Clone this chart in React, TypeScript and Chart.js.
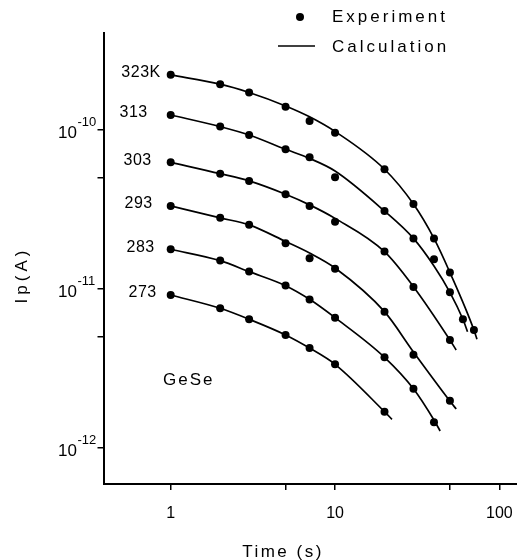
import React, { useEffect, useRef } from "react";
import { Chart, registerables } from "chart.js";

Chart.register(...registerables);

// ---------- data ----------
const temperatureLabels = ["323K", "313", "303", "293", "283", "273"];

// Experiment (dots)
const exp323Times = [1, 2, 3, 5, 7, 10, 20, 30, 40, 50, 70];
const exp323Values = [2.22e-10, 1.94e-10, 1.72e-10, 1.4e-10, 1.14e-10, 9.6e-11, 5.66e-11, 3.42e-11, 2.08e-11, 1.27e-11, 5.52e-12];
const exp313Times = [1, 2, 3, 5, 7, 10, 20, 30, 40, 50, 60];
const exp313Values = [1.24e-10, 1.05e-10, 9.3e-11, 7.56e-11, 6.73e-11, 5.04e-11, 3.09e-11, 2.08e-11, 1.54e-11, 9.53e-12, 6.45e-12];
const exp303Times = [1, 2, 3, 5, 7, 10, 20, 30, 50];
const exp303Values = [6.26e-11, 5.31e-11, 4.78e-11, 3.94e-11, 3.33e-11, 2.65e-11, 1.72e-11, 1.03e-11, 4.78e-12];
const exp293Times = [1, 2, 3, 5, 7, 10, 20, 30, 50];
const exp293Values = [3.33e-11, 2.8e-11, 2.53e-11, 1.94e-11, 1.56e-11, 1.34e-11, 7.2e-12, 3.86e-12, 1.98e-12];
const exp283Times = [1, 2, 3, 5, 7, 10, 20, 30, 40];
const exp283Values = [1.78e-11, 1.51e-11, 1.29e-11, 1.05e-11, 8.6e-12, 6.6e-12, 3.72e-12, 2.36e-12, 1.45e-12];
const exp273Times = [1, 2, 3, 5, 7, 10, 20];
const exp273Values = [9.17e-12, 7.56e-12, 6.45e-12, 5.14e-12, 4.25e-12, 3.36e-12, 1.69e-12];

// Calculation (lines)
const calc323Times = [1, 2, 3, 5, 7, 10, 20, 30, 40, 50, 70, 73];
const calc323Values = [2.22e-10, 1.94e-10, 1.72e-10, 1.416e-10, 1.21e-10, 9.78e-11, 5.66e-11, 3.42e-11, 2.08e-11, 1.27e-11, 5.52e-12, 4.83e-12];
const calc313Times = [1, 2, 3, 5, 7, 10, 20, 30, 40, 50, 60, 64];
const calc313Values = [1.242e-10, 1.049e-10, 9.3e-11, 7.56e-11, 6.62e-11, 5.52e-11, 3.09e-11, 2.08e-11, 1.395e-11, 9.53e-12, 6.45e-12, 5.39e-12];
const calc303Times = [1, 2, 3, 5, 7, 10, 20, 30, 50, 54.6];
const calc303Values = [6.26e-11, 5.31e-11, 4.78e-11, 3.94e-11, 3.38e-11, 2.78e-11, 1.716e-11, 1.034e-11, 4.78e-12, 4.13e-12];
const calc293Times = [1, 2, 3, 5, 7, 10, 20, 30, 50, 54.6];
const calc293Values = [3.33e-11, 2.8e-11, 2.53e-11, 1.99e-11, 1.684e-11, 1.356e-11, 7.2e-12, 4.02e-12, 1.975e-12, 1.759e-12];
const calc283Times = [1, 2, 3, 5, 7, 10, 20, 30, 40, 43.6];
const calc283Values = [1.777e-11, 1.507e-11, 1.285e-11, 1.049e-11, 8.61e-12, 6.6e-12, 3.72e-12, 2.36e-12, 1.5e-12, 1.28e-12];
const calc273Times = [1, 2, 3, 5, 7, 10, 20, 22.2];
const calc273Values = [9.17e-12, 7.56e-12, 6.45e-12, 5.14e-12, 4.25e-12, 3.36e-12, 1.692e-12, 1.515e-12];

const xTickValues = [1, 5, 10, 50, 100];
const xMajorValues = [1, 10, 100];
const xMajorLabels = ["1", "10", "100"];
const yTickValues = [1e-12, 5e-12, 1e-11, 5e-11, 1e-10];
const yMajorValues = [1e-10, 1e-11, 1e-12];
const yMajorExponents = ["-10", "-11", "-12"];

const expSeries = [
  [exp323Times, exp323Values],
  [exp313Times, exp313Values],
  [exp303Times, exp303Values],
  [exp293Times, exp293Values],
  [exp283Times, exp283Values],
  [exp273Times, exp273Values],
];
const calcSeries = [
  [calc323Times, calc323Values],
  [calc313Times, calc313Values],
  [calc303Times, calc303Values],
  [calc293Times, calc293Values],
  [calc283Times, calc283Values],
  [calc273Times, calc273Values],
];

// label right-edge gap from the t=1 point (style)
const labelGaps = [10, 23, 19, 18, 16, 14];

const FONT = "'Liberation Sans', Arial, sans-serif";

const toXY = (t: number[], v: number[]) => t.map((x, i) => ({ x, y: v[i] }));

export default function App() {
  const ref = useRef<HTMLCanvasElement | null>(null);

  useEffect(() => {
    if (!ref.current) return;

    const datasets: any[] = [];
    calcSeries.forEach(([t, v], i) => {
      datasets.push({
        label: "Calculation " + temperatureLabels[i],
        data: toXY(t as number[], v as number[]),
        showLine: true,
        borderColor: "#000",
        borderWidth: 1.7,
        pointRadius: 0,
        cubicInterpolationMode: "monotone",
        fill: false,
      });
    });
    expSeries.forEach(([t, v], i) => {
      datasets.push({
        label: "Experiment " + temperatureLabels[i],
        data: toXY(t as number[], v as number[]),
        showLine: false,
        pointRadius: 4,
        pointBackgroundColor: "#000",
        pointBorderColor: "#000",
        pointBorderWidth: 0,
      });
    });

    const overlay = {
      id: "overlay",
      afterDraw(chart: any) {
        const ctx = chart.ctx as CanvasRenderingContext2D;
        const xs = chart.scales.x;
        const ys = chart.scales.y;
        ctx.save();
        ctx.fillStyle = "#000";
        ctx.strokeStyle = "#000";

        // x tick labels
        (ctx as any).letterSpacing = "0px";
        ctx.font = `16px ${FONT}`;
        ctx.textAlign = "center";
        ctx.textBaseline = "middle";
        xMajorValues.forEach((v, i) => {
          ctx.fillText(xMajorLabels[i], xs.getPixelForValue(v), 514);
        });

        // y tick labels with superscripts
        yMajorValues.forEach((v, i) => {
          const py = ys.getPixelForValue(v);
          ctx.font = `17px ${FONT}`;
          ctx.textAlign = "right";
          ctx.textBaseline = "middle";
          ctx.fillText("10", 77, py + 3);
          ctx.font = `13px ${FONT}`;
          ctx.textAlign = "left";
          ctx.fillText(yMajorExponents[i], 77.5, py - 8);
        });

        // temperature labels
        ctx.font = `16px ${FONT}`;
        (ctx as any).letterSpacing = "0.5px";
        ctx.textAlign = "right";
        ctx.textBaseline = "middle";
        expSeries.forEach(([t, v], i) => {
          const px = xs.getPixelForValue((t as number[])[0]) - labelGaps[i];
          const py = ys.getPixelForValue((v as number[])[0]) - 2;
          ctx.fillText(temperatureLabels[i], px, py);
        });

        // GeSe
        ctx.font = `17px ${FONT}`;
        (ctx as any).letterSpacing = "2px";
        ctx.textAlign = "left";
        ctx.fillText("GeSe", 163, 380);

        // legend
        ctx.beginPath();
        ctx.arc(300, 17, 4, 0, Math.PI * 2);
        ctx.fill();
        ctx.beginPath();
        ctx.lineWidth = 1.7;
        ctx.moveTo(278, 46);
        ctx.lineTo(315, 46);
        ctx.stroke();
        ctx.font = `17px ${FONT}`;
        (ctx as any).letterSpacing = "3px";
        ctx.textAlign = "left";
        ctx.fillText("Experiment", 332, 17);
        ctx.fillText("Calculation", 332, 47);

        // axis titles
        (ctx as any).letterSpacing = "2.5px";
        ctx.textAlign = "center";
        ctx.fillText("Time (s)", 283, 552);

        ctx.translate(22, 277);
        ctx.rotate(-Math.PI / 2);
        (ctx as any).letterSpacing = "4px";
        ctx.fillText("Ip(A)", 2, 0);
        ctx.restore();
      },
    };

    const chart = new Chart(ref.current, {
      type: "scatter",
      data: { datasets },
      options: {
        animation: false,
        responsive: false,
        maintainAspectRatio: false,
        layout: { autoPadding: false, padding: { top: 33, right: 0, left: 0, bottom: 0 } },
        plugins: { legend: { display: false }, tooltip: { enabled: false } },
        scales: {
          x: {
            type: "logarithmic",
            min: 0.39,
            max: 128,
            afterBuildTicks: (s: any) => {
              s.ticks = xTickValues.map((value) => ({ value }));
            },
            afterFit: (s: any) => {
              s.height = 76;
            },
            ticks: {
              autoSkip: false,
              maxRotation: 0,
              padding: 0,
              color: "#000",
              font: { family: FONT, size: 1 },
              callback: () => "",
            },
            grid: {
              display: true,
              drawOnChartArea: false,
              drawTicks: true,
              tickLength: 6,
              color: "#000",
              lineWidth: 1.5,
            },
            border: { display: true, color: "#000", width: 2 },
          },
          y: {
            type: "logarithmic",
            min: 5.94e-13,
            max: 4.07e-10,
            afterBuildTicks: (s: any) => {
              s.ticks = yTickValues.map((value) => ({ value }));
            },
            afterFit: (s: any) => {
              s.width = 103.5;
            },
            ticks: {
              autoSkip: false,
              padding: 0,
              color: "#000",
              font: { family: FONT, size: 1 },
              callback: () => "",
            },
            grid: {
              display: true,
              drawOnChartArea: false,
              drawTicks: true,
              tickLength: 6,
              color: "#000",
              lineWidth: 1.5,
            },
            border: { display: true, color: "#000", width: 2 },
          },
        },
      },
      plugins: [overlay],
    } as any);

    return () => chart.destroy();
  }, []);

  return (
    <div style={{ position: "absolute", left: 0, top: 0, width: 517, height: 560, background: "#fff" }}>
      <canvas ref={ref} width={517} height={560} style={{ width: 517, height: 560, display: "block" }} />
    </div>
  );
}
